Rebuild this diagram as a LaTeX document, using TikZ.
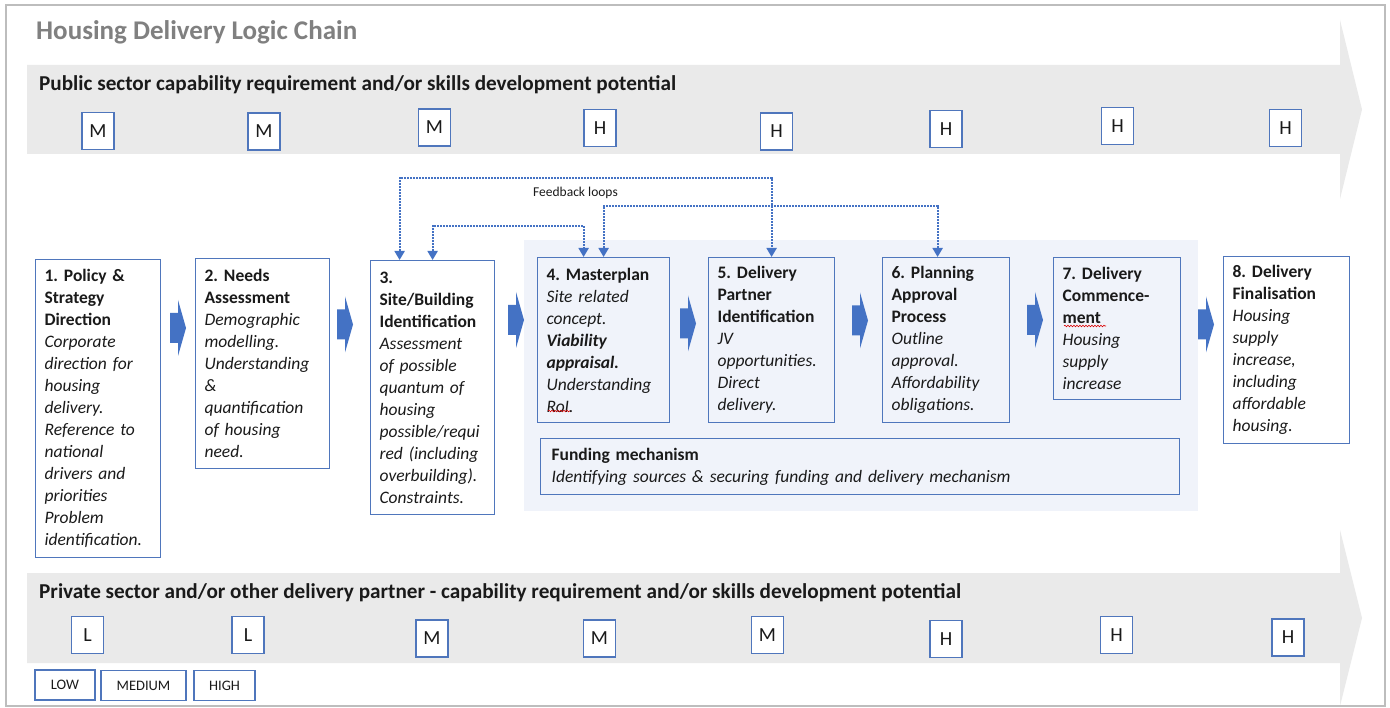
\documentclass[tikz,border=0pt]{standalone}
\usepackage{fontspec}
\setmainfont{Carlito}
\usetikzlibrary{arrows.meta,decorations.pathmorphing}
\definecolor{bandgray}{HTML}{EAEAEA}
\definecolor{boxblue}{HTML}{4F76BC}
\definecolor{arrowblue}{HTML}{4472C4}
\definecolor{panelblue}{HTML}{F0F3FA}
\definecolor{titlegray}{HTML}{808080}
\definecolor{framegray}{HTML}{BDBDBD}
\definecolor{txt}{HTML}{1A1A1A}
\frenchspacing
\tikzset{
  stepbox/.style={draw=boxblue, line width=1.2pt, anchor=north west, inner xsep=9pt, inner ysep=0pt,
    align=left, font=\fontsize{17.5}{22}\selectfont, text=txt},
  lvl/.style={draw=boxblue, line width=1.2pt, fill=white, minimum width=32pt, minimum height=37pt,
    inner sep=0pt, font=\fontsize{20}{22}\selectfont, text=txt},
  legendbox/.style={draw=boxblue, line width=1.2pt, fill=white, minimum height=30pt,
    inner sep=0pt, font=\fontsize{14.5}{16}\selectfont, text=txt},
  bandhead/.style={anchor=west, inner sep=0pt, font=\fontsize{21.2}{24}\selectfont\bfseries, text=txt},
  fb/.style={arrowblue, line width=2pt, dash pattern=on 2pt off 1pt,
    {Triangle[width=10pt,length=9pt]}-{Triangle[width=10pt,length=9pt]}},
  barrow/.pic={\fill[arrowblue] (0,-15)--(8,-15)--(8,-28)--(16,0)--(8,28)--(8,15)--(0,15)--cycle;},
  squiggle/.style={red!85!black, line width=0.6pt, decorate, decoration={snake, amplitude=0.8pt, segment length=3pt}}
}
\begin{document}
\begin{tikzpicture}[x=1pt,y=-1pt]
\useasboundingbox (0,0) rectangle (1390,708);
\fill[white] (0,0) rectangle (1390,708);
% big gray arrows
\fill[bandgray] (27,65) -- (1340,65) -- (1340,20) -- (1362,109.5) -- (1340,199) -- (1340,154) -- (27,154) -- cycle;
\fill[bandgray] (27,573) -- (1340,573) -- (1340,530) -- (1362,618) -- (1340,706) -- (1340,663) -- (27,663) -- cycle;
\draw[framegray, line width=2pt] (6,5) rectangle (1385,706);
% title and headings
\node[anchor=west, inner sep=0pt, font=\fontsize{27}{30}\selectfont\bfseries, text=titlegray] (title) at (36,32) {Housing Delivery Logic Chain};
\node[bandhead] (pubhead) at (39,85) {Public sector capability requirement and/or skills development potential};
\node[bandhead] (privhead) at (39,593) {Private sector and/or other delivery partner - capability requirement and/or skills development potential};
% public levels
\node[lvl] (p1) at (98,131) {M};
\node[lvl] (p2) at (264,131.5) {M};
\node[lvl] (p3) at (434.5,127.5) {M};
\node[lvl] (p4) at (600,128) {H};
\node[lvl] (p5) at (776.5,131.5) {H};
\node[lvl] (p6) at (946,129) {H};
\node[lvl] (p7) at (1117.5,126) {H};
\node[lvl] (p8) at (1285.5,128) {H};
% private levels
\node[lvl] (q1) at (87.5,635) {L};
\node[lvl] (q2) at (248,635) {L};
\node[lvl] (q3) at (432,638.5) {M};
\node[lvl] (q4) at (599.5,638.5) {M};
\node[lvl] (q5) at (767.5,635) {M};
\node[lvl] (q6) at (946,639) {H};
\node[lvl] (q7) at (1116.5,635) {H};
\node[lvl] (q8) at (1288,637.5) {H};
% legend
\node[legendbox, minimum width=60pt] (low) at (65,685) {LOW};
\node[legendbox, minimum width=85pt] (medium) at (143.5,685.5) {MEDIUM};
\node[legendbox, minimum width=61pt] (high) at (224.5,685.5) {HIGH};
% panel
\fill[panelblue] (524,240) rectangle (1198,511);
% step boxes
\node[stepbox, text width=107pt, minimum height=298pt] (b1) at (35,259) {%
\textbf{1. Policy \&}\\ \textbf{Strategy}\\ \textbf{Direction}\\ \textit{Corporate}\\ \textit{direction for}\\ \textit{housing}\\ \textit{delivery.}\\ \textit{Reference to}\\ \textit{national}\\ \textit{drivers and}\\ \textit{priorities}\\ \textit{Problem}\\ \textit{identification.}};
\node[stepbox, text width=116pt, minimum height=210pt] (b2) at (195,258) {%
\textbf{2. Needs}\\ \textbf{Assessment}\\ \textit{Demographic}\\ \textit{modelling.}\\ \textit{Understanding}\\ \textit{\&}\\ \textit{quantification}\\ \textit{of housing}\\ \textit{need.}};
\node[stepbox, text width=106pt, minimum height=254pt] (b3) at (370,260) {%
\textbf{3.}\\ \textbf{Site/Building}\\ \textbf{Identification}\\ \textit{Assessment}\\ \textit{of possible}\\ \textit{quantum of}\\ \textit{housing}\\ \textit{possible/requi}\\ \textit{red (including}\\ \textit{overbuilding).}\\ \textit{Constraints.}};
\node[stepbox, text width=114pt, minimum height=165pt] (b4) at (537,257) {%
\textbf{4. Masterplan}\\ \textit{Site related}\\ \textit{concept.}\\ \textbf{\textit{Viability}}\\ \textbf{\textit{appraisal.}}\\ \textit{Understanding}\\ \textit{RoI.}};
\node[stepbox, text width=108pt, minimum height=165pt] (b5) at (708,257) {%
\textbf{5. Delivery}\\ \textbf{Partner}\\ \textbf{Identification}\\ \textit{JV}\\ \textit{opportunities.}\\ \textit{Direct}\\ \textit{delivery.}};
\node[stepbox, text width=109pt, minimum height=165pt] (b6) at (882,257) {%
\textbf{6. Planning}\\ \textbf{Approval}\\ \textbf{Process}\\ \textit{Outline}\\ \textit{approval.}\\ \textit{Affordability}\\ \textit{obligations.}};
\node[stepbox, text width=109pt, minimum height=142pt] (b7) at (1053,257) {%
\textbf{7. Delivery}\\ \textbf{Commence-}\\ \textbf{ment}\\ \textit{Housing}\\ \textit{supply}\\ \textit{increase}};
\node[stepbox, text width=108pt, minimum height=187pt] (b8) at (1223,256) {%
\textbf{8. Delivery}\\ \textbf{Finalisation}\\ \textit{Housing}\\ \textit{supply}\\ \textit{increase,}\\ \textit{including}\\ \textit{affordable}\\ \textit{housing.}};
\node[stepbox, inner xsep=11pt, text width=617pt, minimum height=56pt] (fund) at (540,438) {%
\textbf{Funding mechanism}\\ \textit{Identifying sources \& securing funding and delivery mechanism}};
% spell-check squiggles
\draw[squiggle] (548,411) -- (570,411);
\draw[squiggle] (1064,326) -- (1106,326);
% block arrows between steps
\pic at (170,328) {barrow};
\pic at (337,324.5) {barrow};
\pic at (508,320) {barrow};
\pic at (680,323.5) {barrow};
\pic at (852,320.5) {barrow};
\pic at (1027,320) {barrow};
\pic at (1198,324.5) {barrow};
% feedback loops
\coordinate (ya) at (0,178);
\coordinate (yb) at (0,206);
\coordinate (yc) at (0,226);
\coordinate (fa3) at ([xshift=-33pt]b3.north);
\coordinate (fb6) at ([xshift=-8.5pt]b6.north);
\coordinate (fc4) at ([xshift=-20pt]b4.north);
\draw[fb] (fa3) -- (fa3 |- ya) -| (b5.north);
\draw[fb] (b4.north) -- (b4.north |- yb) -| (fb6);
\draw[fb] (b3.north) -- (b3.north |- yc) -| (fc4);
\node[inner sep=0pt, font=\fontsize{13.5}{15}\selectfont, text=txt] (fblabel) at (575.5,193) {Feedback loops};
\end{tikzpicture}
\end{document}
